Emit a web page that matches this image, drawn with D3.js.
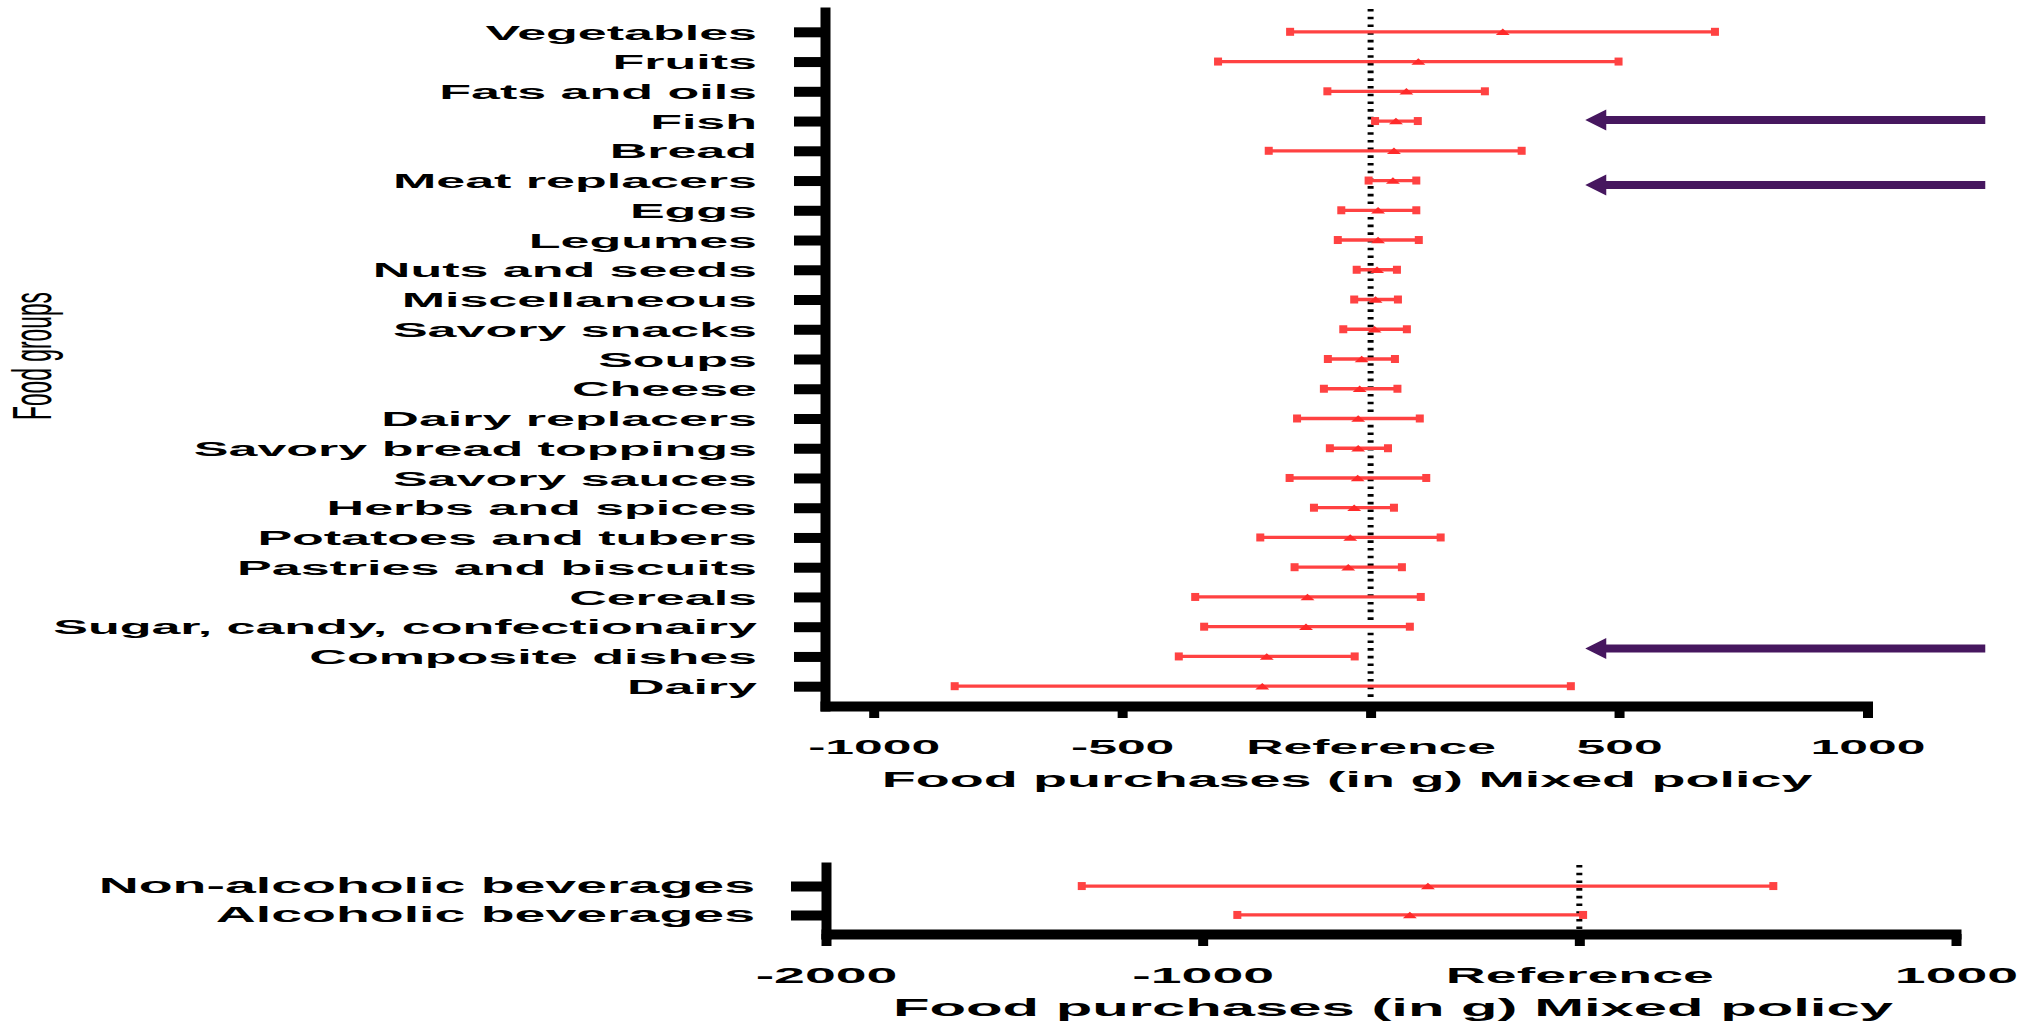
<!DOCTYPE html>
<html>
<head>
<meta charset="utf-8">
<script src="https://cdn.jsdelivr.net/npm/d3@7"></script>
<style>
  html, body { margin: 0; padding: 0; background: #fff; }
  svg { display: block; }
  text { font-family: "Liberation Sans", Arial, sans-serif; fill: #000; }
</style>
</head>
<body>
<script>
// ---------------- DATA ----------------
const foodGroups = [
  "Vegetables", "Fruits", "Fats and oils", "Fish", "Bread", "Meat replacers",
  "Eggs", "Legumes", "Nuts and seeds", "Miscellaneous", "Savory snacks", "Soups",
  "Cheese", "Dairy replacers", "Savory bread toppings", "Savory sauces",
  "Herbs and spices", "Potatoes and tubers", "Pastries and biscuits", "Cereals",
  "Sugar, candy, confectionairy", "Composite dishes", "Dairy"
];
const foodMean = [266, 96, 72, 51, 47, 45, 15, 15, 13, 10, 8, -18, -22, -25, -25, -26, -33, -41, -45, -127, -130, -209, -218];
const foodLow  = [-162, -307, -87, 9, -205, -4, -59, -66, -28, -33, -55, -86, -94, -148, -82, -163, -114, -222, -153, -353, -335, -386, -837];
const foodHigh = [693, 499, 230, 95, 304, 92, 92, 97, 53, 55, 73, 49, 54, 99, 35, 112, 47, 141, 63, 101, 79, -32, 403];

const bevGroups = ["Non-alcoholic beverages", "Alcoholic beverages"];
const bevMean = [-402, -450];
const bevLow  = [-1321, -908];
const bevHigh = [515, 10];

const topTicks = [-1000, -500, 0, 500, 1000];
const bottomTicks = [-2000, -1000, 0, 1000];
const xTitle = "Food purchases (in g) Mixed policy";
const yTitle = "Food groups";
const refLabel = "Reference";

// arrows pointing at highlighted groups (in data units of the top panel)
const arrowGroups = ["Fish", "Meat replacers", "Composite dishes"];
const arrowDy = [-1, 4.5, -8];
const arrowFrom = 1237, arrowTo = 432;

// ---------------- STYLE ----------------
const RED = "#ff4242";
const PURPLE = "#46175f";

const svg = d3.select("body").append("svg").attr("width", 2044).attr("height", 1033);

const fmt = v => v === 0 ? refLabel : String(v);

function styleAxis(g, fontSize, sx, textY, isLeft, textX, dy) {
  g.select(".domain").attr("stroke", "#000").attr("stroke-width", 10).attr("stroke-linecap", "square");
  g.selectAll(".tick line").attr("stroke", "#000").attr("stroke-width", 10);
  const t = g.selectAll(".tick text")
    .attr("font-size", fontSize).attr("font-weight", "bold")
    .attr("font-family", '"Liberation Sans", Arial, sans-serif')
    .attr("fill", "#000");
  if (isLeft) {
    t.attr("x", 0).attr("dy", dy).attr("text-anchor", "end")
     .attr("transform", `translate(${textX},0) scale(${sx},1)`);
  } else {
    t.attr("y", textY).attr("dy", null).attr("text-anchor", "middle")
     .attr("transform", `scale(${sx},1)`);
  }
}

function errorBars(g, cats, low, mean, high, x, y) {
  const rows = cats.map((c, i) => ({ c, lo: low[i], m: mean[i], hi: high[i] }));
  const gg = g.selectAll("g.eb").data(rows).join("g").attr("class", "eb");
  gg.append("line")
    .attr("x1", d => x(d.lo)).attr("x2", d => x(d.hi))
    .attr("y1", d => y(d.c)).attr("y2", d => y(d.c))
    .attr("stroke", RED).attr("stroke-width", 3.3);
  ["lo", "hi"].forEach(k => {
    gg.append("rect")
      .attr("x", d => x(d[k]) - 4).attr("y", d => y(d.c) - 4)
      .attr("width", 8).attr("height", 8)
      .attr("fill", RED);
  });
  gg.append("path")
    .attr("d", d => {
      const cx = x(d.m), cy = y(d.c);
      return `M${cx - 7},${cy + 3.2}L${cx + 7},${cy + 3.2}L${cx},${cy - 3.2}Z`;
    })
    .attr("fill", "#ff2a2a");
}

// ---------------- TOP PANEL ----------------
const xTop = d3.scaleLinear().domain([-1098, 1000]).range([825, 1867.5]);
const yTop = d3.scalePoint().domain(foodGroups).range([12, 706]).padding(0.666);

svg.append("line")
  .attr("x1", xTop(0)).attr("x2", xTop(0)).attr("y1", 9).attr("y2", 701)
  .attr("stroke", "#000").attr("stroke-width", 6).attr("stroke-dasharray", "2.6,5.1");

errorBars(svg.append("g"), foodGroups, foodLow, foodMean, foodHigh, xTop, yTop);

const gxTop = svg.append("g").attr("transform", "translate(0,706)")
  .call(d3.axisBottom(xTop).tickValues(topTicks).tickSize(12).tickSizeOuter(0).tickFormat(fmt));
styleAxis(gxTop, 21, 2.46, 48, false);

const gyTop = svg.append("g").attr("transform", "translate(825,0)")
  .call(d3.axisLeft(yTop).tickSize(31).tickSizeOuter(0));
styleAxis(gyTop, 20, 2.6, 0, true, -68, "0.36em");

svg.append("text")
  .attr("transform", "translate(1347,787) scale(2.53,1)")
  .attr("text-anchor", "middle").attr("font-size", 22).attr("font-weight", "bold")
  .text(xTitle);

svg.append("text")
  .attr("transform", "translate(51,356) scale(2.45,1) rotate(-90)")
  .attr("text-anchor", "middle").attr("font-size", 22.8)
  .text(yTitle);

// arrows
arrowGroups.forEach((c, i) => {
  const yy = yTop(c) + arrowDy[i];
  const xt = xTop(arrowTo), xe = xTop(arrowFrom);
  const hl = 21, hh = 10.5, sh = 4;
  svg.append("path")
    .attr("d", `M${xt},${yy}L${xt + hl},${yy - hh}L${xt + hl},${yy - sh}L${xe},${yy - sh}L${xe},${yy + sh}L${xt + hl},${yy + sh}L${xt + hl},${yy + hh}Z`)
    .attr("fill", PURPLE);
});

// ---------------- BOTTOM PANEL ----------------
const xBot = d3.scaleLinear().domain([-2000, 1000]).range([826, 1956]);
const yBot = d3.scalePoint().domain(bevGroups).range([867, 934]).padding(0.66);

svg.append("line")
  .attr("x1", xBot(0)).attr("x2", xBot(0)).attr("y1", 865).attr("y2", 929)
  .attr("stroke", "#000").attr("stroke-width", 6).attr("stroke-dasharray", "2.6,5.1");

errorBars(svg.append("g"), bevGroups, bevLow, bevMean, bevHigh, xBot, yBot);

const gxBot = svg.append("g").attr("transform", "translate(0,934)")
  .call(d3.axisBottom(xBot).tickValues(bottomTicks).tickSize(12).tickSizeOuter(0).tickFormat(fmt));
styleAxis(gxBot, 22, 2.52, 49, false);

const gyBot = svg.append("g").attr("transform", "translate(826,0)")
  .call(d3.axisLeft(yBot).tickSize(35).tickSizeOuter(0));
styleAxis(gyBot, 21.5, 2.58, 0, true, -71, "0.3em");

svg.append("text")
  .attr("transform", "translate(1393,1016) scale(2.6,1)")
  .attr("text-anchor", "middle").attr("font-size", 23).attr("font-weight", "bold")
  .text(xTitle);
</script>
</body>
</html>
